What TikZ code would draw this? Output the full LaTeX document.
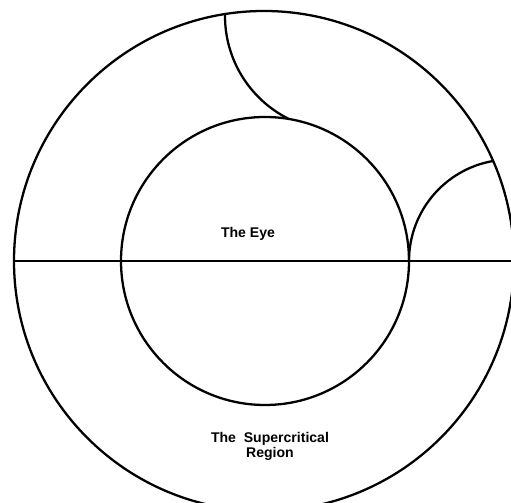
\documentclass[tikz,border=0pt]{standalone}
\usepackage{fontspec}
\newfontfamily\letterfont{Liberation Sans}
\usetikzlibrary{calc}
\tikzset{
  rim/.style={line width=1.3pt, line cap=round},
  lbl/.style={font=\letterfont\bfseries\fontsize{8}{9}\selectfont, inner sep=0pt},
}
\begin{document}
\begin{tikzpicture}[x=0.02cm, y=0.02cm]
\useasboundingbox (0,0) rectangle (511,503);
\clip (0,0) rectangle (511,503);
\coordinate (O) at (264,242);
\coordinate (I) at (265,242);
\coordinate (C1) at (340,487);
\coordinate (C2) at (510.5,242);
% outer boundary and the eye
\draw[rim] (O) circle[radius=250];
\draw[rim] (I) circle[radius=144];
\draw[rim] ($(O)+(-250,0)$) -- (511,242);
% the two arcs
\draw[rim] ($(C1)+(179:115)$) arc[start angle=179, end angle=243.5, radius=115];
\draw[rim] ($(C2)+(180:101.5)$) arc[start angle=180, end angle=100, radius=101.5];
\node[lbl, anchor=base] (eye) at (248,265) {The Eye};
\node[lbl, anchor=base, align=center] (region) at (270,45) {The~~Supercritical\\Region};
\end{tikzpicture}
\end{document}
